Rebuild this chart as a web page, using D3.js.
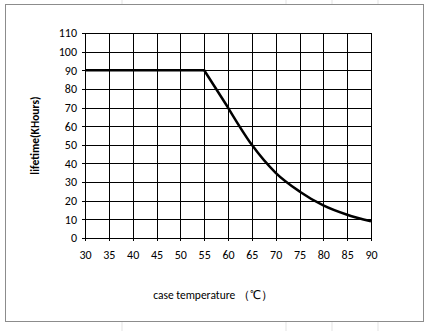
<!DOCTYPE html>
<html>
<head>
<meta charset="utf-8">
<script src="https://cdn.jsdelivr.net/npm/d3@7"></script>
<style>
  body { margin: 0; background: #fff; }
  text { font-family: Carlito, Calibri, "Open Sans", sans-serif; }
</style>
</head>
<body>
<div id="chart"></div>
<script>
const temps = [30, 35, 40, 45, 50, 55, 60, 65, 70, 75, 80, 85, 90];
const lifetime = [90, 90, 90, 90, 90, 90, 70, 50, 35, 25, 17.5, 12.5, 9];
const yTicks = [0, 10, 20, 30, 40, 50, 60, 70, 80, 90, 100, 110];

const width = 429, height = 331;
const margin = {top: 33, right: 58, bottom: 93, left: 85};

const svg = d3.select('#chart').append('svg')
  .attr('width', width).attr('height', height);

// faint spreadsheet cells behind the chart
const sheetCols = [122, 286, 332, 378];
svg.selectAll('.sheet')
  .data(sheetCols)
  .enter().append('line')
    .attr('x1', d => d).attr('x2', d => d)
    .attr('y1', 0).attr('y2', height)
    .attr('stroke', '#e3e3e3');

// chart frame
svg.append('rect')
  .attr('x', 5.5).attr('y', 4.5)
  .attr('width', 418).attr('height', 317)
  .attr('fill', '#fff')
  .attr('stroke', '#8c8c8c');

const x = d3.scaleLinear().domain([30, 90]).range([margin.left, width - margin.right]);
const y = d3.scaleLinear().domain([0, 110]).range([height - margin.bottom, margin.top]);

const g = svg.append('g');

// grid
g.selectAll('.vgrid')
  .data(temps)
  .enter().append('line')
    .attr('x1', d => Math.round(x(d)) + 0.5).attr('x2', d => Math.round(x(d)) + 0.5)
    .attr('y1', y(110)).attr('y2', y(0) + 3)
    .attr('stroke', '#000').attr('stroke-width', 1);

g.selectAll('.hgrid')
  .data(yTicks)
  .enter().append('line')
    .attr('x1', x(30) - 3).attr('x2', x(90))
    .attr('y1', d => Math.round(y(d)) + 0.5).attr('y2', d => Math.round(y(d)) + 0.5)
    .attr('stroke', '#000').attr('stroke-width', 1);

// axes labels
const xAxis = d3.axisBottom(x).tickValues(temps).tickSize(0).tickPadding(12);
svg.append('g')
  .attr('transform', `translate(0,${y(0)})`)
  .call(xAxis)
  .call(s => s.select('.domain').remove())
  .selectAll('text')
    .attr('font-size', 12).attr('fill', '#000')
    .style('font-family', 'Carlito, Calibri, "Open Sans", sans-serif');

const yAxis = d3.axisLeft(y).tickValues(yTicks).tickSize(0).tickPadding(8);
svg.append('g')
  .attr('transform', `translate(${x(30)},0)`)
  .call(yAxis)
  .call(s => s.select('.domain').remove())
  .selectAll('text')
    .attr('font-size', 12).attr('fill', '#000')
    .style('font-family', 'Carlito, Calibri, "Open Sans", sans-serif');

// curve: flat part and knee drawn straight, the tail smoothed
const pts = temps.map((t, i) => [t, lifetime[i]]);
const knee = temps.indexOf(60);

const straight = d3.line().x(d => x(d[0])).y(d => y(d[1]));
const smooth = d3.line().x(d => x(d[0])).y(d => y(d[1])).curve(d3.curveMonotoneX);

svg.append('path')
  .attr('d', straight(pts.slice(0, knee + 1)) + smooth(pts.slice(knee)).replace(/^M[^CL]*/, ''))
  .attr('fill', 'none')
  .attr('stroke', '#000')
  .attr('stroke-width', 2.5)
  .attr('stroke-linejoin', 'round');

// titles
svg.append('text')
  .attr('x', 213).attr('y', 299)
  .attr('text-anchor', 'middle')
  .attr('font-size', 11.5)
  .text('case temperature （℃）');

svg.append('text')
  .attr('transform', `translate(39,${(y(0) + y(110)) / 2}) rotate(-90)`)
  .attr('text-anchor', 'middle')
  .attr('font-size', 11.5)
  .attr('font-weight', 'bold')
  .text('lifetime(KHours)');
</script>
</body>
</html>
